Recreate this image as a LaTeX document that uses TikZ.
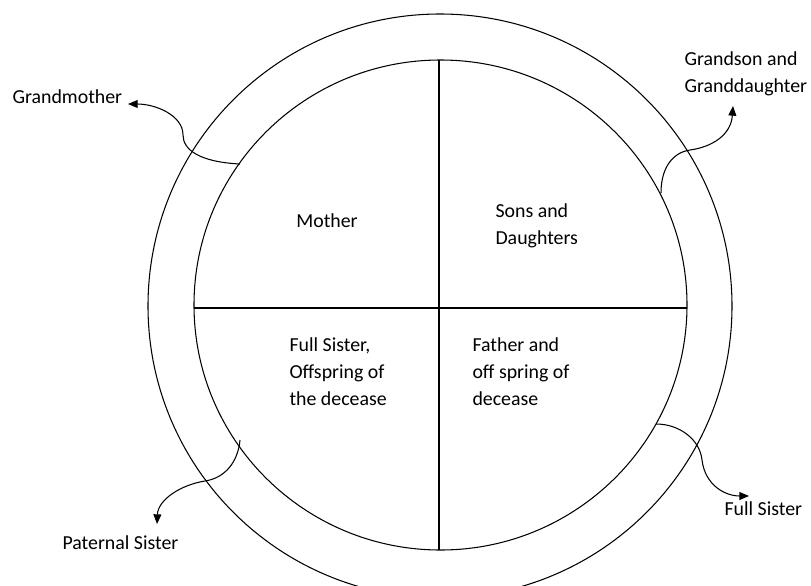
\documentclass[tikz,border=0pt]{standalone}
\usepackage{fontspec}
\setmainfont{Carlito}
\usetikzlibrary{arrows.meta}
\tikzset{
  lbl/.style={inner sep=0pt, align=left, font=\fontsize{11.3}{15.3}\selectfont},
  link/.style={line width=0.6pt, -{Triangle[length=5.5pt,width=4.5pt]}}
}
\begin{document}
\begin{tikzpicture}[x=0.02cm, y=-0.02cm, line width=0.6pt]
   \useasboundingbox (0,0) rectangle (811,585);
   \draw (440,306) ellipse [x radius=292, y radius=292];
   \draw (440.5,305) ellipse [x radius=246.5, y radius=245];
   \draw (194,308) -- (687,308);
   \draw (439,60) -- (439,550);

   \node[lbl, anchor=center] (mother) at (327,221) {Mother};
   \node[lbl, anchor=west] (sons) at (495,226) {Sons and\\Daughters};
   \node[lbl, anchor=west] (fullsis) at (289,372) {Full Sister,\\Offspring of\\the decease};
   \node[lbl, anchor=west] (father) at (472,372) {Father and\\off spring of\\decease};

   \node[lbl, anchor=west] (gmother) at (12,97) {Grandmother};
   \node[lbl, anchor=west] (gson) at (684,73.5) {Grandson and\\Granddaughter};
   \node[lbl, anchor=west] (fsister) at (724,509) {Full Sister};
   \node[lbl, anchor=west] (psister) at (62,543) {Paternal Sister};

   \coordinate (A) at (240,164);
   \coordinate (AA) at (128,104);
   \coordinate (B) at (661,193);
   \coordinate (BB) at (733,106);
   \coordinate (C) at (656,424);
   \coordinate (CC) at (749,496);
   \coordinate (D) at (240,440);
   \coordinate (DD) at (157,524);

   \draw[link] (A) .. controls (200,162) and (183,150) .. (183,135)
      .. controls (183,115) and (155,104) .. (AA);
   \draw[link] (B) .. controls (661,165) and (675,152) .. (690,150)
      .. controls (712,147) and (731,135) .. (BB);
   \draw[link] (C) .. controls (680,424) and (700,440) .. (702,460)
      .. controls (705,485) and (725,496) .. (CC);
   \draw[link] (D) .. controls (238,462) and (225,478) .. (205,481)
      .. controls (180,485) and (158,500) .. (DD);
\end{tikzpicture}
\end{document}
